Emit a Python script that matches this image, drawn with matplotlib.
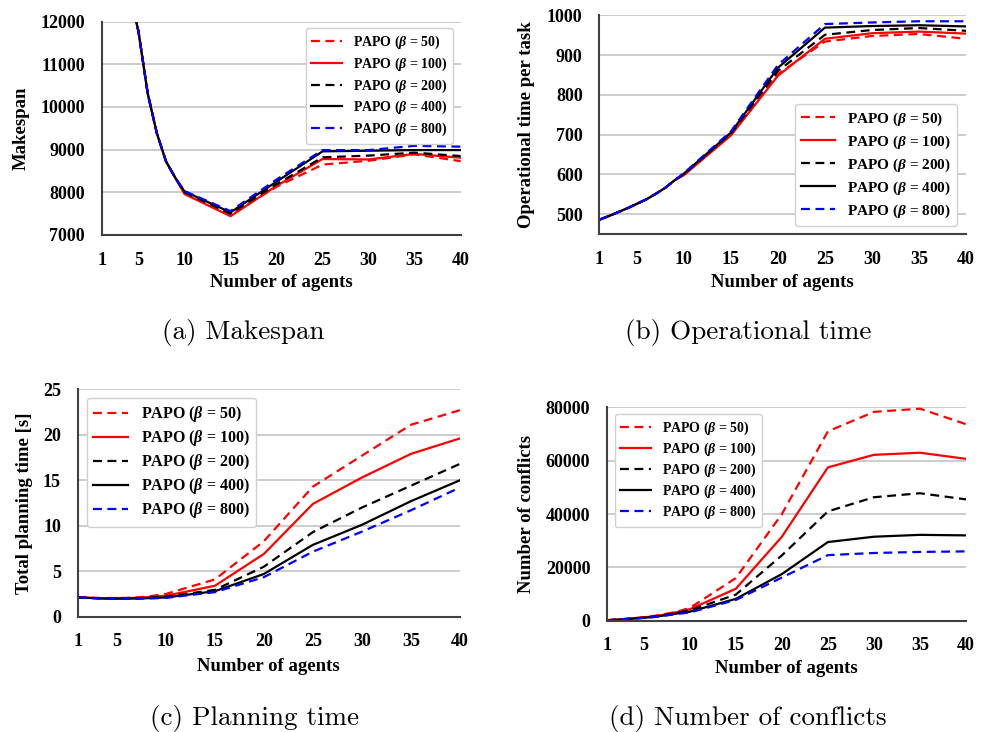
import matplotlib
matplotlib.use("Agg")
import matplotlib.pyplot as plt

plt.rcParams['font.family'] = ['Liberation Serif', 'DejaVu Serif']
plt.rcParams['font.weight'] = 'bold'
plt.rcParams['mathtext.fontset'] = 'custom'
plt.rcParams['mathtext.rm'] = 'Liberation Serif:bold'
plt.rcParams['mathtext.it'] = 'Liberation Serif:bold:italic'
plt.rcParams['mathtext.bf'] = 'Liberation Serif:bold'

# number of agents (1..10 then every 5)
agents = [1, 2, 3, 4, 5, 6, 7, 8, 9, 10, 15, 20, 25, 30, 35, 40]
betas = [50, 100, 200, 400, 800]

# (a) makespan
makespan_head = [18000, 15500, 13900, 12700, 11770, 10320, 9380, 8720, 8340]
makespan_b50 = makespan_head + [7980, 7470, 8130, 8650, 8740, 8890, 8730]
makespan_b100 = makespan_head + [7960, 7440, 8150, 8780, 8770, 8900, 8810]
makespan_b200 = makespan_head + [8000, 7500, 8190, 8820, 8860, 8930, 8850]
makespan_b400 = makespan_head + [8020, 7530, 8250, 8960, 8975, 8990, 8990]
makespan_b800 = makespan_head + [8030, 7560, 8300, 8990, 8990, 9090, 9070]

# (b) operational time per task
optime_head = [486, 495, 505, 515, 526, 537, 551, 566, 585]
optime_b50 = optime_head + [600, 700, 852, 934, 948, 953, 941]
optime_b100 = optime_head + [598, 698, 848, 941, 955, 959, 954]
optime_b200 = optime_head + [601, 703, 860, 951, 963, 968, 961]
optime_b400 = optime_head + [602, 705, 868, 969, 973, 975, 972]
optime_b800 = optime_head + [603, 708, 875, 978, 982, 985, 985]

# (c) total planning time [s]
plan_b50 = [2.13, 2.1, 2.07, 2.05, 2.05, 2.07, 2.12, 2.2, 2.35, 2.5, 4.1, 8.3, 14.3, 17.7, 21.1, 22.7]
plan_b100 = [2.13, 2.1, 2.05, 2.03, 2.03, 2.05, 2.08, 2.15, 2.22, 2.3, 3.4, 6.9, 12.4, 15.3, 17.9, 19.6]
plan_b200 = [2.13, 2.08, 2.03, 2.0, 2.0, 2.0, 2.03, 2.08, 2.13, 2.2, 2.95, 5.5, 9.3, 12.0, 14.4, 16.8]
plan_b400 = [2.13, 2.07, 2.02, 1.98, 1.98, 1.98, 2.0, 2.03, 2.07, 2.12, 2.8, 4.7, 7.9, 10.1, 12.7, 15.0]
plan_b800 = [2.13, 2.07, 2.02, 1.98, 1.97, 1.97, 1.98, 2.0, 2.03, 2.07, 2.7, 4.35, 7.15, 9.35, 11.7, 14.2]

# (d) number of conflicts
conf_b50 = [200, 400, 700, 1000, 1300, 1750, 2300, 3000, 3800, 4800, 16000, 40000, 71000, 78300, 79500, 73700]
conf_b100 = [200, 400, 650, 950, 1250, 1650, 2150, 2800, 3500, 4300, 12000, 31500, 57500, 62200, 63000, 60700]
conf_b200 = [200, 380, 620, 900, 1150, 1500, 2000, 2600, 3200, 3900, 9800, 24500, 41000, 46300, 47800, 45500]
conf_b400 = [200, 370, 600, 850, 1100, 1400, 1850, 2400, 2900, 3400, 8200, 17500, 29500, 31500, 32200, 32000]
conf_b800 = [200, 360, 580, 820, 1050, 1350, 1750, 2250, 2700, 3100, 7800, 16200, 24600, 25400, 25800, 26000]

xticks = [1, 5, 10, 15, 20, 25, 30, 35, 40]

styles = [('#ff0000', (0, (4, 2.5))), ('#ff0000', '-'),
          ('black', (0, (4, 2.5))), ('black', '-'),
          ('#0000ff', (0, (4, 2.5)))]


def draw(ax, series, ylim, yticks, ylabel, ylab_x, leg_loc, leg_anchor, leg_size, leg_space):
    for (color, ls), beta, ys in zip(styles, betas, series):
        ax.plot(agents, ys, color=color, linestyle=ls, linewidth=1.6,
                label=r'PAPO ($\beta$ = %d)' % beta)
    ax.set_xlim(1, 40)
    ax.set_ylim(*ylim)
    ax.set_xticks(xticks)
    ax.set_yticks(yticks)
    ax.grid(axis='y', color='#c4c4c4', linewidth=1.2)
    ax.set_axisbelow(True)
    for s in ['top', 'right']:
        ax.spines[s].set_visible(False)
    for s in ['left', 'bottom']:
        ax.spines[s].set_color('#404040')
        ax.spines[s].set_linewidth(1.5)
    ax.tick_params(length=0, labelsize=13, pad=12)
    ax.set_xlabel('Number of agents', fontsize=13.5, fontweight='bold')
    ax.set_ylabel(ylabel, fontsize=13.5, fontweight='bold')
    ax.xaxis.set_label_coords(0.5, -0.183)
    ax.yaxis.set_label_coords(ylab_x, 0.5)
    ax.legend(loc=leg_loc, bbox_to_anchor=leg_anchor, borderaxespad=0,
              fontsize=leg_size, handlelength=2.2, handletextpad=0.8,
              labelspacing=leg_space, framealpha=1, edgecolor='#d0d0d0')


fig = plt.figure(figsize=(9.87, 7.32), dpi=100)

ax_a = fig.add_axes([0.1030, 0.6790, 0.3637, 0.2914])
draw(ax_a, [makespan_b50, makespan_b100, makespan_b200, makespan_b400, makespan_b800],
     (7000, 12000), range(7000, 12001, 1000), 'Makespan', -0.200,
     'upper right', (0.979, 0.97), 10, 0.32)

ax_b = fig.add_axes([0.6072, 0.6803, 0.3715, 0.2988])
draw(ax_b, [optime_b50, optime_b100, optime_b200, optime_b400, optime_b800],
     (450, 1000), range(500, 1001, 100), 'Operational time per task', -0.175,
     'lower right', (0.975, 0.038), 11, 0.37)

ax_c = fig.add_axes([0.0787, 0.1575, 0.3873, 0.3107])
draw(ax_c, [plan_b50, plan_b100, plan_b200, plan_b400, plan_b800],
     (0, 25), range(0, 26, 5), 'Total planning time [s]', -0.117,
     'upper left', (0.0235, 0.962), 11.5, 0.25)

ax_d = fig.add_axes([0.6150, 0.1520, 0.3637, 0.2915])
draw(ax_d, [conf_b50, conf_b100, conf_b200, conf_b400, conf_b800],
     (0, 80000), range(0, 80001, 20000), 'Number of conflicts', -0.200,
     'upper left', (0.0214, 0.969), 10, 0.27)

# sub-captions
cap = dict(fontsize=19.5, family='cmr10', fontweight='normal', ha='center', va='center')
fig.text(243 / 987, 1 - 333 / 732, '(a) Makespan', **cap)
fig.text(748 / 987, 1 - 333 / 732, '(b) Operational time', **cap)
fig.text(255 / 987, 1 - 719 / 732, '(c) Planning time', **cap)
fig.text(748 / 987, 1 - 719 / 732, '(d) Number of conflicts', **cap)

fig.savefig('out.png', dpi=100)
plt.close(fig)
